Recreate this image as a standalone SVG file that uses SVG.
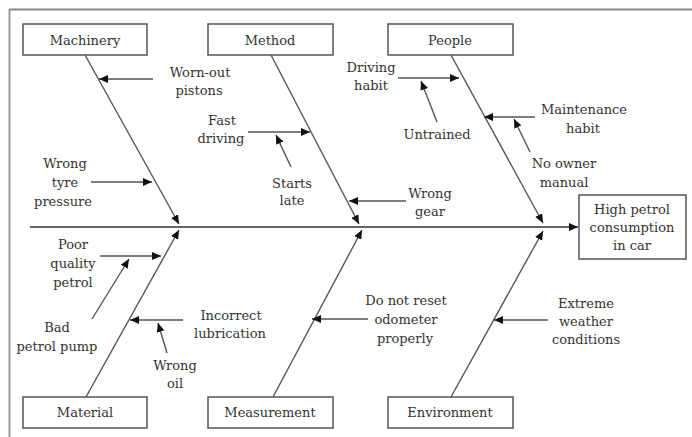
<svg xmlns="http://www.w3.org/2000/svg" width="692" height="437" viewBox="0 0 692 437">
<defs>
<marker id="ah" markerUnits="userSpaceOnUse" markerWidth="10" markerHeight="8" refX="9" refY="4" orient="auto">
<path d="M0,0 L9,4 L0,8 Z" fill="#111"/>
</marker>
<style>
.t{font-family:"DejaVu Serif","Liberation Serif",serif;font-size:13px;fill:#333;text-anchor:middle}
.box{fill:#fff;stroke:#555;stroke-width:1.5}
.ln{stroke:#555;stroke-width:1.4;fill:none}
.ar{stroke:#555;stroke-width:1.4;fill:none;marker-end:url(#ah)}
</style>
</defs>
<rect width="692" height="437" fill="#fff"/>
<line x1="9" y1="9.5" x2="692" y2="9.5" stroke="#888" stroke-width="2"/>
<line x1="9.5" y1="9" x2="9.5" y2="437" stroke="#999" stroke-width="2"/>

<g id="connectors">
<line class="ar" x1="30" y1="227" x2="578" y2="227" style="stroke-width:2;stroke:#666"/>
<line class="ar" x1="85" y1="55" x2="179" y2="224"/>
<line class="ar" x1="271" y1="55" x2="359" y2="224"/>
<line class="ar" x1="451" y1="55" x2="543" y2="223"/>
<line class="ar" x1="86" y1="397" x2="179" y2="230"/>
<line class="ar" x1="273" y1="397" x2="362" y2="230"/>
<line class="ar" x1="451" y1="397" x2="543" y2="231"/>
<!-- sub causes -->
<line class="ar" x1="153" y1="79" x2="99" y2="79"/>
<line class="ar" x1="91" y1="182" x2="152" y2="182"/>
<line class="ar" x1="248" y1="132" x2="310" y2="132"/>
<line class="ar" x1="291" y1="167" x2="276" y2="135"/>
<line class="ar" x1="406" y1="201" x2="349" y2="201"/>
<line class="ar" x1="398" y1="78" x2="459" y2="78"/>
<line class="ar" x1="437" y1="122" x2="421" y2="81"/>
<line class="ar" x1="535" y1="117" x2="484" y2="117"/>
<line class="ar" x1="530" y1="152" x2="514" y2="119"/>
<line class="ar" x1="100" y1="256" x2="161" y2="256"/>
<line class="ar" x1="92" y1="319" x2="129" y2="259"/>
<line class="ar" x1="183" y1="320" x2="130" y2="320"/>
<line class="ar" x1="167" y1="353" x2="158" y2="323"/>
<line class="ar" x1="368" y1="319" x2="312" y2="319"/>
<line class="ar" x1="548" y1="320" x2="494" y2="320"/>
</g>

<g id="machinery"><rect class="box" x="23" y="24" width="124" height="31"/><text class="t" x="85" y="45">Machinery</text></g>
<g id="method"><rect class="box" x="208" y="24" width="125" height="31"/><text class="t" x="270" y="45">Method</text></g>
<g id="people"><rect class="box" x="388" y="24" width="125" height="31"/><text class="t" x="450" y="45">People</text></g>
<g id="material"><rect class="box" x="23" y="397" width="124" height="31"/><text class="t" x="85" y="417">Material</text></g>
<g id="measurement"><rect class="box" x="208" y="397" width="125" height="31"/><text class="t" x="270" y="417">Measurement</text></g>
<g id="environment"><rect class="box" x="388" y="397" width="125" height="31"/><text class="t" x="450" y="417">Environment</text></g>
<g id="effect"><rect class="box" x="579" y="195" width="107" height="64"/>
<text class="t" x="632" y="214">High petrol</text>
<text class="t" x="632" y="232">consumption</text>
<text class="t" x="632" y="250">in car</text></g>

<g id="worn-out-pistons"><text class="t" x="200" y="77">Worn-out</text><text class="t" x="199" y="95">pistons</text></g>
<g id="wrong-tyre-pressure"><text class="t" x="65" y="168">Wrong</text><text class="t" x="65" y="187">tyre</text><text class="t" x="63" y="206">pressure</text></g>
<g id="fast-driving"><text class="t" x="222" y="125">Fast</text><text class="t" x="221" y="143">driving</text></g>
<g id="starts-late"><text class="t" x="292" y="188">Starts</text><text class="t" x="292" y="205">late</text></g>
<g id="wrong-gear"><text class="t" x="430" y="198">Wrong</text><text class="t" x="430" y="216">gear</text></g>
<g id="driving-habit"><text class="t" x="371" y="72">Driving</text><text class="t" x="371" y="90">habit</text></g>
<g id="untrained"><text class="t" x="437" y="139">Untrained</text></g>
<g id="maintenance-habit"><text class="t" x="584" y="114">Maintenance</text><text class="t" x="583" y="133">habit</text></g>
<g id="no-owner-manual"><text class="t" x="564" y="168">No owner</text><text class="t" x="564" y="187">manual</text></g>
<g id="poor-quality-petrol"><text class="t" x="73" y="249">Poor</text><text class="t" x="73" y="268">quality</text><text class="t" x="73" y="287">petrol</text></g>
<g id="bad-petrol-pump"><text class="t" x="57" y="332">Bad</text><text class="t" x="57" y="351">petrol pump</text></g>
<g id="incorrect-lubrication"><text class="t" x="231" y="320">Incorrect</text><text class="t" x="230" y="338">lubrication</text></g>
<g id="wrong-oil"><text class="t" x="175" y="370">Wrong</text><text class="t" x="175" y="388">oil</text></g>
<g id="do-not-reset"><text class="t" x="406" y="305">Do not reset</text><text class="t" x="406" y="324">odometer</text><text class="t" x="405" y="343">properly</text></g>
<g id="extreme-weather"><text class="t" x="586" y="308">Extreme</text><text class="t" x="586" y="326">weather</text><text class="t" x="586" y="344">conditions</text></g>
</svg>
